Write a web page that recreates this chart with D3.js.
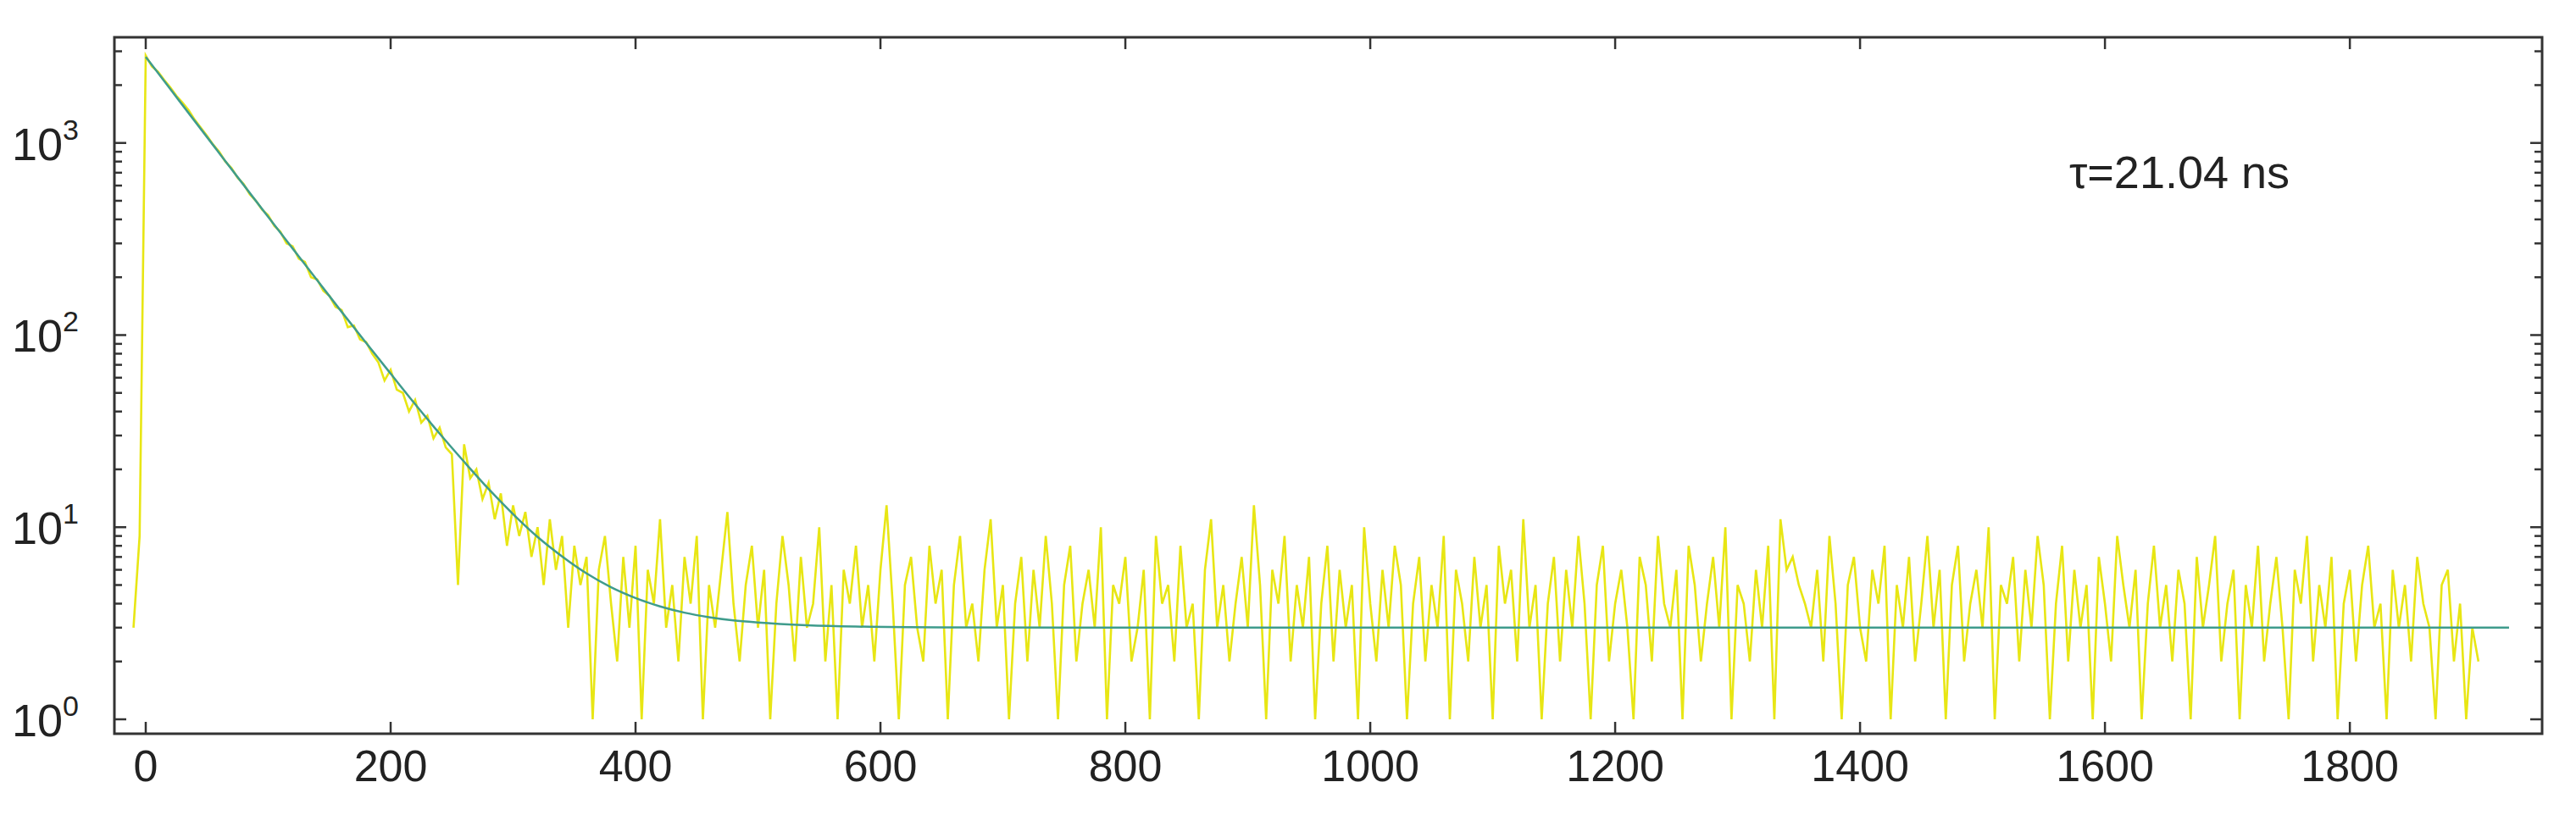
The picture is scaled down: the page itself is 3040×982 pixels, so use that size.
<!DOCTYPE html>
<html>
<head>
<meta charset="utf-8">
<script src="https://cdn.jsdelivr.net/npm/d3@7"></script>
<style>
  body { margin: 0; background: #fff; }
  text { font-family: "Liberation Sans", Arial, sans-serif; fill: #222; }
</style>
</head>
<body>
<div class="chart"></div>
<script>
// measured decay (counts), first bin at t = -10 ns, one bin every 5 ns
const t0 = -10
const binStep = 5
const counts = [
  3, 9,
  2850, 2500, 2350, 2130, 1950, 1760, 1620, 1480, 1320, 1200, 1090, 980, 900, 800, 740, 660, 610, 540, 500, 450,
  420, 370, 345, 300, 290, 250, 240, 200, 195, 170, 160, 140, 135, 110, 112, 95, 92, 80, 72, 58,
  66, 52, 50, 40, 46, 35, 38, 29, 33, 26, 24, 5, 27, 18, 20, 14, 17, 11, 15, 8,
  13, 9, 12, 7, 10, 5, 11, 6, 9, 3, 8, 5, 7, 1, 6, 9, 4, 2, 7, 3,
  8, 1, 6, 4, 11, 3, 5, 2, 7, 4, 9, 1, 5, 3, 6, 12, 4, 2, 5, 8,
  3, 6, 1, 4, 9, 5, 2, 7, 3, 4, 10, 2, 5, 1, 6, 4, 8, 3, 5, 2,
  6, 13, 4, 1, 5, 7, 3, 2, 8, 4, 6, 1, 5, 9, 3, 4, 2, 6, 11, 3,
  5, 1, 4, 7, 2, 6, 3, 9, 4, 1, 5, 8, 2, 4, 6, 3, 10, 1, 5, 4,
  7, 2, 3, 6, 1, 9, 4, 5, 2, 8, 3, 4, 1, 6, 11, 3, 5, 2, 4, 7,
  3, 13, 5, 1, 6, 4, 9, 2, 5, 3, 7, 1, 4, 8, 2, 6, 3, 5, 1, 10,
  4, 2, 6, 3, 8, 5, 1, 4, 7, 2, 5, 3, 9, 1, 6, 4, 2, 7, 3, 5,
  1, 8, 4, 6, 2, 11, 3, 5, 1, 4, 7, 2, 6, 3, 9, 4, 1, 5, 8, 2,
  4, 6, 3, 1, 7, 5, 2, 9, 4, 3, 6, 1, 8, 5, 2, 4, 7, 3, 10, 1,
  5, 4, 2, 6, 3, 8, 1, 11, 6, 7, 5, 4, 3, 6, 2, 9, 4, 1, 5, 7,
  3, 2, 6, 4, 8, 1, 5, 3, 7, 2, 4, 9, 3, 6, 1, 5, 8, 2, 4, 6,
  3, 10, 1, 5, 4, 7, 2, 6, 3, 9, 5, 1, 4, 8, 2, 6, 3, 5, 1, 7,
  4, 2, 9, 5, 3, 6, 1, 4, 8, 3, 5, 2, 6, 4, 1, 7, 3, 5, 9, 2,
  4, 6, 1, 5, 3, 8, 2, 4, 7, 3, 1, 6, 4, 9, 2, 5, 3, 7, 1, 4,
  6, 2, 5, 8, 3, 4, 1, 6, 3, 5, 2, 7, 4, 3, 1, 5, 6, 2, 4, 1,
  3, 2
]

// fitted curve, sampled (ns, counts)
const fitTimes = [0, 20, 40, 60, 80, 100, 120, 140, 160, 180, 200, 220, 240, 260, 280, 300, 320, 340, 360, 380,
  400, 420, 440, 460, 480, 500, 540, 580, 650, 800, 1200, 1600, 1930]
const fitCounts = [2803, 1909, 1300, 886, 604, 412, 282, 193, 132, 91, 63, 43.7, 30.7, 21.9, 15.8, 11.7, 8.9, 7.05, 5.75, 4.87,
  4.28, 3.87, 3.59, 3.40, 3.27, 3.19, 3.09, 3.04, 3.01, 3.0, 3.0, 3.0, 3.0]

const xTicks = [0, 200, 400, 600, 800, 1000, 1200, 1400, 1600, 1800]
const yTicks = [1, 10, 100, 1000]
const tauLabel = 'τ=21.04 ns'

const W = 3040, H = 982
const margin = {top: 44, right: 40, bottom: 116, left: 135}
const width = W - margin.left - margin.right
const height = H - margin.top - margin.bottom

const svg = d3.select('.chart')
  .append('svg')
    .attr('width', W)
    .attr('height', H)
  .append('g')
    .attr('transform', `translate(${margin.left}, ${margin.top})`)

const x = d3.scaleLinear().domain([-25.6, 1957]).range([0, width])
const y = d3.scaleLog().domain([Math.pow(10, -0.075), Math.pow(10, 3.55)]).range([height, 0])

const pts = counts.map((c, i) => [t0 + i * binStep, c])
const fit = fitTimes.map((t, i) => [t, fitCounts[i]])

svg.append('clipPath').attr('id', 'clip')
  .append('rect').attr('width', width).attr('height', height)

const line = d3.line().x(d => x(d[0])).y(d => y(d[1]))

svg.append('path')
  .datum(pts)
  .attr('clip-path', 'url(#clip)')
  .attr('d', line)
  .style('fill', 'none')
  .style('stroke', '#e8e614')
  .style('stroke-width', 2.6)

svg.append('path')
  .datum(fit)
  .attr('clip-path', 'url(#clip)')
  .attr('d', line.curve(d3.curveMonotoneX))
  .style('fill', 'none')
  .style('stroke', '#3f9c8c')
  .style('stroke-width', 2.5)

// frame
svg.append('rect')
  .attr('width', width)
  .attr('height', height)
  .style('fill', 'none')
  .style('stroke', '#333')
  .style('stroke-width', 3)

// ticks (inward, mirrored)
const minor = []
for (let p = 0; p < 4; p++) for (let m = 2; m <= 9; m++) {
  const v = m * Math.pow(10, p)
  if (v < y.domain()[1]) minor.push(v)
}
const tk = svg.append('g').style('stroke', '#333').style('stroke-width', 2.5)
xTicks.forEach(t => {
  tk.append('line').attr('x1', x(t)).attr('x2', x(t)).attr('y1', height).attr('y2', height - 14)
  tk.append('line').attr('x1', x(t)).attr('x2', x(t)).attr('y1', 0).attr('y2', 14)
})
yTicks.forEach(t => {
  tk.append('line').attr('x1', 0).attr('x2', 14).attr('y1', y(t)).attr('y2', y(t))
  tk.append('line').attr('x1', width).attr('x2', width - 14).attr('y1', y(t)).attr('y2', y(t))
})
minor.forEach(t => {
  tk.append('line').attr('x1', 0).attr('x2', 9).attr('y1', y(t)).attr('y2', y(t))
  tk.append('line').attr('x1', width).attr('x2', width - 9).attr('y1', y(t)).attr('y2', y(t))
})

svg.selectAll('.xl').data(xTicks).enter().append('text')
  .attr('x', d => x(d))
  .attr('y', height + 56)
  .attr('text-anchor', 'middle')
  .style('font-size', '52px')
  .text(d => d)

const yl = svg.selectAll('.yl').data(yTicks).enter().append('text')
  .attr('x', -42)
  .attr('y', d => y(d) + 20)
  .attr('text-anchor', 'end')
  .style('font-size', '54px')
yl.append('tspan').text('10')
yl.append('tspan').attr('dy', -24).style('font-size', '34px').text(d => Math.round(Math.log10(d)))

svg.append('text')
  .attr('x', 2442 - margin.left)
  .attr('y', 222 - margin.top)
  .style('font-size', '54px')
  .text(tauLabel)
</script>
</body>
</html>
